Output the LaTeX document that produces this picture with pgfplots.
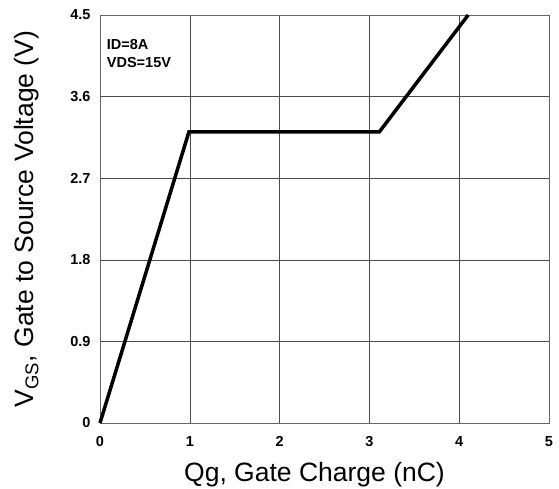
\documentclass[border=0pt]{standalone}
\usepackage{pgfplots}
\pgfplotsset{compat=1.18}
\usepackage{fontspec}
\setmainfont{Liberation Sans}
\begin{document}
\begin{tikzpicture}[x=1pt,y=1pt]
\useasboundingbox (-100,-65) rectangle (459,423);
\begin{axis}[
  at={(0,0)}, anchor=south west,
  scale only axis, width=449pt, height=408pt,
  xmin=0, xmax=5, ymin=0, ymax=4.5,
  xtick={0,1,2,3,4,5}, ytick={0,0.9,1.8,2.7,3.6,4.5},
  yticklabels={0,0.9,1.8,2.7,3.6,4.5},
  xticklabels={0,1,2,3,4,5},
  tick style={draw=none},
  grid=major,
  major grid style={draw=black!70, line width=0.6pt},
  axis line style={draw=black!60, line width=0.8pt},
  ticklabel style={font=\fontsize{14.5}{15}\selectfont\bfseries},
  xticklabel style={yshift=-10pt},
  yticklabel style={xshift=-6pt},
  xlabel={Qg, Gate Charge (nC)},
  ylabel={V\textsubscript{GS}, Gate to Source Voltage (V)},
  label style={font=\fontsize{26.5}{27}\selectfont},
  xlabel style={yshift=-9pt, xshift=-10pt},
  ylabel style={yshift=24pt},
  clip=false,
]
\addplot[black, line width=3.5pt, line join=miter] coordinates {(0,0) (0.99,3.21) (3.11,3.21) (4.10,4.5)};
\node[anchor=north west, align=left, inner sep=0pt, font=\fontsize{14.5}{18}\selectfont\bfseries] at (axis cs:0.075,4.23) {ID=8A\\VDS=15V};
\end{axis}
\end{tikzpicture}
\end{document}
